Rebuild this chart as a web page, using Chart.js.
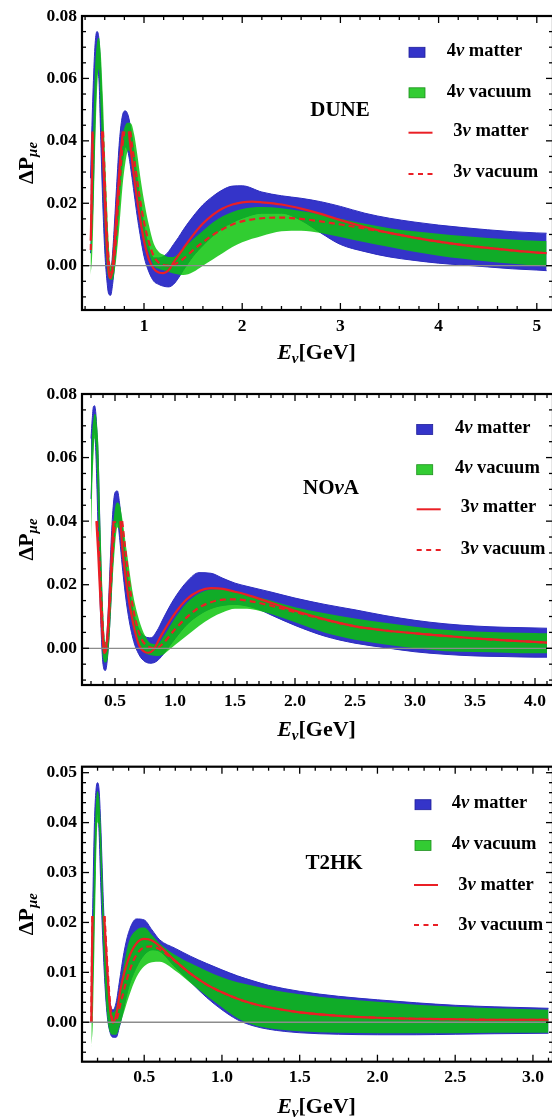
<!DOCTYPE html>
<html><head><meta charset="utf-8">
<script src="https://cdn.jsdelivr.net/npm/chart.js@4"></script>
<style>
html,body{margin:0;padding:0;background:#fff;overflow:hidden;}
#wrap{position:relative;width:552px;height:1117px;overflow:hidden;background:#fff;}
.pn{position:absolute;left:0;width:554px;}
</style></head><body>
<div id="wrap">
<div class="pn" style="top:0;height:370px"><canvas id="c1"></canvas></div>
<div class="pn" style="top:370px;height:380px"><canvas id="c2"></canvas></div>
<div class="pn" style="top:750px;height:367px"><canvas id="c3"></canvas></div>
</div>
<script>
// ---------------- DUNE ----------------
const duneXTicks = [1, 2, 3, 4, 5];
const duneYTicks = [0, 0.02, 0.04, 0.06, 0.08];
const duneE = [0.455,0.47,0.48,0.50,0.52,0.54,0.56,0.58,0.60,0.62,0.64,0.66,0.68,0.70,0.72,0.75,0.78,0.81,0.84,0.87,0.90,0.93,0.96,1.0,1.05,1.1,1.15,1.2,1.25,1.3,1.35,1.4,1.5,1.6,1.7,1.8,1.9,2.0,2.2,2.4,2.6,2.8,3.0,3.25,3.5,3.75,4.0,4.25,4.5,4.75,5.0,5.1];
const duneMatter4Lo = [0.004,0.012,0.02,0.045,0.062,0.060,0.040,0.020,0.005,-0.004,-0.009,-0.0095,-0.006,0.0,0.008,0.022,0.033,0.038,0.036,0.030,0.023,0.016,0.010,0.003,-0.002,-0.005,-0.006,-0.0066,-0.0068,-0.006,-0.004,-0.0015,0.003,0.0065,0.0095,0.012,0.0138,0.0152,0.0168,0.0168,0.0145,0.0105,0.0068,0.0045,0.0028,0.0017,0.0008,0.0002,-0.0004,-0.001,-0.0014,-0.0016];
const duneMatter4Hi = [0.028,0.045,0.055,0.070,0.075,0.073,0.062,0.045,0.028,0.013,0.002,-0.002,0.004,0.014,0.025,0.040,0.048,0.0496,0.048,0.043,0.036,0.028,0.021,0.013,0.006,0.0025,0.0025,0.003,0.0045,0.0068,0.009,0.0115,0.0158,0.0195,0.0222,0.0243,0.0255,0.0256,0.0236,0.0224,0.0216,0.0205,0.019,0.0168,0.0152,0.014,0.013,0.0122,0.0115,0.0109,0.0105,0.0104];
const duneVacuum4Lo = [-0.003,0.002,0.01,0.035,0.055,0.063,0.050,0.030,0.012,0.0,-0.004,-0.0045,-0.0045,-0.002,0.003,0.013,0.025,0.033,0.037,0.035,0.030,0.023,0.017,0.009,0.004,0.0,-0.001,-0.0015,-0.002,-0.0025,-0.0028,-0.003,-0.002,0.0,0.002,0.004,0.006,0.0075,0.0095,0.011,0.0112,0.0105,0.0092,0.0075,0.006,0.0045,0.0032,0.0022,0.0013,0.0006,0.0,-0.0003];
const duneVacuum4Hi = [0.012,0.03,0.04,0.062,0.071,0.073,0.068,0.055,0.038,0.022,0.008,0.0,0.003,0.01,0.018,0.031,0.041,0.045,0.0458,0.0455,0.042,0.036,0.029,0.021,0.013,0.007,0.0045,0.0035,0.0028,0.0028,0.0038,0.0055,0.0085,0.0112,0.0138,0.0158,0.0172,0.0182,0.0188,0.0184,0.0175,0.0164,0.015,0.0134,0.012,0.011,0.0102,0.0095,0.0089,0.0084,0.008,0.0079];
const duneMatter3E = [0.458,0.468,0.476,0.50,0.55,0.572,0.59,0.61,0.63,0.645,0.66,0.675,0.69,0.71,0.73,0.76,0.785,0.81,0.83,0.845,0.87,0.90,0.95,1.0,1.05,1.1,1.15,1.2,1.25,1.3,1.4,1.5,1.6,1.7,1.8,1.9,2.0,2.1,2.2,2.4,2.6,2.8,3.0,3.25,3.5,3.75,4.0,4.25,4.5,4.75,5.0,5.1];
const duneMatter3 = [0.008,0.025,0.043,null,null,0.043,0.03,0.014,0.002,-0.003,-0.004,-0.002,0.003,0.012,0.022,0.035,0.043,null,null,0.043,0.036,0.028,0.017,0.008,0.002,-0.001,-0.0022,-0.0024,-0.0015,0.001,0.0055,0.0098,0.0135,0.0163,0.0183,0.0196,0.0203,0.0205,0.0203,0.0196,0.0183,0.0166,0.0146,0.0124,0.0105,0.009,0.0077,0.0066,0.0057,0.0049,0.0042,0.004];
const duneVacuum3E = [0.458,0.468,0.478,0.50,0.55,0.582,0.60,0.62,0.64,0.66,0.675,0.69,0.71,0.73,0.76,0.78,0.80,0.82,0.84,0.86,0.88,0.90,0.95,1.0,1.05,1.1,1.15,1.2,1.25,1.3,1.4,1.5,1.6,1.7,1.8,1.9,2.0,2.2,2.4,2.6,2.8,3.0,3.25,3.5,3.75,4.0,4.25,4.5,4.75,5.0,5.1];
const duneVacuum3 = [0.005,0.022,0.043,null,null,0.043,0.028,0.012,0.002,-0.002,-0.0023,0.0,0.007,0.017,0.03,0.038,0.043,null,null,0.043,0.038,0.034,0.023,0.014,0.0075,0.003,0.001,0.0002,0.0,0.0003,0.0022,0.005,0.0075,0.0098,0.0117,0.0132,0.0142,0.0152,0.0154,0.015,0.0142,0.0132,0.0119,0.0105,0.009,0.0077,0.0066,0.0057,0.0049,0.0042,0.004];

// ---------------- NOvA ----------------
const novaXTicks = [0.5, 1.0, 1.5, 2.0, 2.5, 3.0, 3.5, 4.0];
const novaYTicks = [0, 0.02, 0.04, 0.06, 0.08];
const novaE = [0.30,0.31,0.32,0.33,0.34,0.35,0.36,0.38,0.40,0.42,0.44,0.46,0.48,0.50,0.52,0.54,0.56,0.60,0.65,0.70,0.75,0.80,0.85,0.90,0.95,1.0,1.1,1.2,1.3,1.4,1.5,1.6,1.7,1.8,2.0,2.25,2.5,2.75,3.0,3.25,3.5,3.75,4.0,4.1];
const novaMatter4Lo = [0.047,0.058,0.066,0.068,0.062,0.05,0.036,0.01,-0.005,-0.007,-0.002,0.01,0.026,0.037,0.04,0.034,0.026,0.013,0.003,-0.002,-0.0042,-0.0047,-0.004,-0.002,0.0005,0.003,0.0075,0.0105,0.0125,0.0135,0.0138,0.0133,0.0122,0.0105,0.0072,0.0038,0.0016,0.0002,-0.0011,-0.0019,-0.0024,-0.0026,-0.0028,-0.0028];
const novaMatter4Hi = [0.066,0.072,0.076,0.0763,0.074,0.068,0.06,0.03,0.008,0.0,0.009,0.027,0.042,0.049,0.0495,0.045,0.038,0.024,0.012,0.006,0.0037,0.0033,0.0055,0.0092,0.0128,0.016,0.021,0.0238,0.0236,0.022,0.0205,0.0195,0.0186,0.0177,0.0158,0.0138,0.0121,0.0103,0.0088,0.0077,0.007,0.0066,0.0064,0.0063];
const novaVacuum4Lo = [0.034,0.05,0.06,0.066,0.064,0.055,0.042,0.015,-0.003,-0.0045,-0.003,0.007,0.021,0.032,0.038,0.037,0.031,0.018,0.007,0.001,-0.0015,-0.0022,-0.0024,-0.002,-0.0005,0.001,0.004,0.007,0.0095,0.0113,0.0124,0.0124,0.0118,0.0108,0.0082,0.0049,0.0027,0.0012,0.0,-0.0009,-0.0012,-0.0014,-0.0016,-0.0016];
const novaVacuum4Hi = [0.06,0.068,0.072,0.0737,0.0735,0.07,0.065,0.037,0.013,0.002,0.005,0.021,0.036,0.044,0.0459,0.045,0.041,0.03,0.017,0.009,0.004,0.0015,0.0013,0.0035,0.0065,0.0095,0.0143,0.0172,0.0185,0.0186,0.0179,0.017,0.016,0.015,0.0129,0.011,0.0094,0.008,0.0068,0.0058,0.0053,0.005,0.0048,0.0047];
const novaMatter3E = [0.345,0.36,0.38,0.40,0.41,0.42,0.44,0.46,0.48,0.488,0.50,0.53,0.545,0.56,0.60,0.65,0.70,0.75,0.78,0.82,0.85,0.9,1.0,1.1,1.2,1.3,1.4,1.5,1.6,1.8,2.0,2.25,2.5,2.75,3.0,3.25,3.5,3.75,4.0,4.1];
const novaMatter3 = [0.04,0.03,0.014,0.002,-0.0015,-0.001,0.006,0.02,0.035,0.04,null,null,0.04,0.032,0.019,0.008,0.001,-0.0012,-0.0014,-0.0005,0.0015,0.005,0.011,0.0155,0.018,0.0189,0.0187,0.0178,0.0168,0.0143,0.0118,0.0091,0.0069,0.0056,0.0047,0.0039,0.0031,0.0025,0.002,0.0018];
const novaVacuum3E = [0.35,0.37,0.39,0.41,0.42,0.44,0.46,0.48,0.50,0.52,0.54,0.56,0.58,0.62,0.67,0.72,0.78,0.84,0.9,1.0,1.1,1.2,1.3,1.4,1.5,1.6,1.8,2.0,2.25,2.5,2.75,3.0,3.25,3.5,3.75,4.0,4.1];
const novaVacuum3 = [0.04,0.028,0.012,0.0,-0.001,0.004,0.016,0.03,0.04,null,null,0.04,0.033,0.02,0.009,0.003,0.0005,0.0,0.0015,0.006,0.0098,0.0128,0.0145,0.0153,0.0154,0.015,0.0134,0.0114,0.009,0.0069,0.0056,0.0047,0.0039,0.0031,0.0025,0.002,0.0018];

// ---------------- T2HK ----------------
const t2hkXTicks = [0.5, 1.0, 1.5, 2.0, 2.5, 3.0];
const t2hkYTicks = [0, 0.01, 0.02, 0.03, 0.04, 0.05];
const t2hkE = [0.16,0.17,0.18,0.19,0.20,0.21,0.22,0.24,0.26,0.28,0.30,0.32,0.34,0.37,0.40,0.45,0.50,0.55,0.60,0.70,0.80,0.90,1.0,1.1,1.2,1.3,1.5,1.75,2.0,2.25,2.5,2.75,3.1];
const t2hkMatter4Lo = [0.0,0.01,0.025,0.038,0.042,0.038,0.028,0.012,0.002,-0.002,-0.003,-0.003,-0.001,0.003,0.007,0.011,0.0135,0.0145,0.0142,0.011,0.008,0.005,0.0025,0.0005,-0.0007,-0.0014,-0.0021,-0.0024,-0.0025,-0.0025,-0.0024,-0.0023,-0.0022];
const t2hkMatter4Hi = [0.006,0.025,0.04,0.0465,0.048,0.0465,0.04,0.022,0.01,0.004,0.0025,0.004,0.008,0.014,0.018,0.0207,0.0205,0.0185,0.0165,0.0148,0.0132,0.0118,0.0105,0.0093,0.0083,0.0074,0.0062,0.0052,0.0045,0.0039,0.0034,0.0031,0.0028];
const t2hkVacuum4Lo = [-0.005,0.0,0.015,0.03,0.04,0.039,0.031,0.013,0.002,-0.002,-0.0025,-0.0025,-0.001,0.002,0.005,0.009,0.0112,0.012,0.0121,0.0103,0.0078,0.0053,0.003,0.0008,-0.0005,-0.0012,-0.0018,-0.0021,-0.0022,-0.0022,-0.0022,-0.0021,-0.0021];
const t2hkVacuum4Hi = [0.002,0.018,0.035,0.044,0.0463,0.045,0.04,0.022,0.009,0.003,0.002,0.003,0.006,0.0115,0.016,0.0185,0.019,0.0175,0.0158,0.0135,0.0118,0.0103,0.009,0.008,0.0073,0.0066,0.0056,0.0047,0.0041,0.0035,0.0031,0.0028,0.0025];
const t2hkMatter3E = [0.16,0.163,0.167,0.19,0.22,0.243,0.26,0.28,0.30,0.32,0.35,0.40,0.45,0.50,0.55,0.60,0.70,0.80,0.90,1.0,1.1,1.2,1.3,1.5,1.75,2.0,2.25,2.5,2.75,3.1];
const t2hkMatter3 = [0.0,0.01,0.0213,null,null,0.0213,0.012,0.003,-0.0001,0.0015,0.007,0.0128,0.0158,0.0167,0.0164,0.0152,0.0123,0.0097,0.0076,0.006,0.0047,0.0037,0.003,0.002,0.0013,0.0009,0.0007,0.0006,0.0005,0.0005];
const t2hkVacuum3E = [0.16,0.163,0.167,0.19,0.22,0.245,0.26,0.28,0.30,0.32,0.35,0.40,0.45,0.50,0.55,0.60,0.70,0.80,0.90,1.0,1.1,1.2,1.3,1.5,1.75,2.0,2.25,2.5,2.75,3.1];
const t2hkVacuum3 = [0.0,0.01,0.0213,null,null,0.0213,0.013,0.004,0.0003,0.0005,0.004,0.0098,0.0135,0.015,0.0152,0.0146,0.0122,0.0097,0.0076,0.006,0.0047,0.0037,0.003,0.002,0.0013,0.0009,0.0007,0.0006,0.0005,0.0005];

const legendLabels = [
  [['4',0],['ν',1],[' matter',0]],
  [['4',0],['ν',1],[' vacuum',0]],
  [['3',0],['ν',1],[' matter',0]],
  [['3',0],['ν',1],[' vacuum',0]]
];

// ---------------- styling ----------------
const SERIF = "'Liberation Serif','Times New Roman',serif";
const BLUE = '#3434c9';
const BLUE_EDGE = '#2c2cbf';
const GREEN = 'rgba(10,195,10,0.84)';
const RED = '#ea1f25';
const CLEAR = 'rgba(0,0,0,0)';

function runFont(size, italic){ return (italic ? 'italic ' : '') + 'bold ' + size + 'px ' + SERIF; }
function drawRuns(ctx, runs, x, y, align){
  let w = 0;
  runs.forEach(r => { ctx.font = runFont(r.s, r.i); r.w = ctx.measureText(r.t).width; w += r.w; });
  let cx = align === 'center' ? x - w / 2 : x;
  ctx.textAlign = 'left';
  ctx.textBaseline = 'alphabetic';
  runs.forEach(r => { ctx.font = runFont(r.s, r.i); ctx.fillText(r.t, cx, y + (r.dy || 0)); cx += r.w; });
}

const decor = {
  id: 'decor',
  afterDatasetsDraw(chart, args, o){
    const {ctx, chartArea: a} = chart;
    const xs = chart.scales.x, ys = chart.scales.y;
    ctx.save();
    const y0 = ys.getPixelForValue(0);
    ctx.strokeStyle = '#8c8c8c'; ctx.lineWidth = 1.3;
    ctx.beginPath(); ctx.moveTo(a.left, y0); ctx.lineTo(a.right, y0); ctx.stroke();
    ctx.strokeStyle = '#000'; ctx.lineWidth = 1.3;
    const seg = (x1, y1, x2, y2) => { ctx.beginPath(); ctx.moveTo(x1, y1); ctx.lineTo(x2, y2); ctx.stroke(); };
    const xr = Math.round(o.xMajor / o.xMinor);
    for (let k = Math.ceil(xs.min / o.xMinor - 1e-6); k * o.xMinor <= xs.max + 1e-9; k++) {
      const px = xs.getPixelForValue(k * o.xMinor);
      const L = (k % xr === 0) ? 7 : 4;
      seg(px, a.bottom, px, a.bottom - L); seg(px, a.top, px, a.top + L);
    }
    const yr = Math.round(o.yMajor / o.yMinor);
    for (let k = Math.ceil(ys.min / o.yMinor - 1e-6); k * o.yMinor <= ys.max + 1e-9; k++) {
      const py = ys.getPixelForValue(k * o.yMinor);
      const L = (k % yr === 0) ? 7 : 4;
      seg(a.left, py, a.left + L, py); seg(a.right, py, a.right - L, py);
    }
    ctx.lineWidth = 2.2;
    ctx.strokeRect(a.left, a.top, a.right - a.left, a.bottom - a.top);
    ctx.restore();
  },
  afterDraw(chart, args, o){
    const {ctx, chartArea: a} = chart;
    ctx.save();
    ctx.fillStyle = '#000';
    // experiment name
    drawRuns(ctx, o.name.map(r => ({t: r[0], i: r[1], s: 21})), o.nameX, o.nameY, 'center');
    // legend
    const L = o.legend;
    ctx.fillStyle = BLUE; ctx.fillRect(L.sx, L.sy[0], 16, 10);
    ctx.strokeStyle = '#1e1e9a'; ctx.lineWidth = 0.8; ctx.strokeRect(L.sx, L.sy[0], 16, 10);
    ctx.fillStyle = '#33cc33'; ctx.fillRect(L.sx, L.sy[1], 16, 10);
    ctx.strokeStyle = '#1c8f1c'; ctx.strokeRect(L.sx, L.sy[1], 16, 10);
    ctx.strokeStyle = RED; ctx.lineWidth = 2;
    ctx.beginPath(); ctx.moveTo(L.lx, L.ly[0]); ctx.lineTo(L.lx + 24, L.ly[0]); ctx.stroke();
    ctx.setLineDash([5, 4.5]);
    ctx.beginPath(); ctx.moveTo(L.lx, L.ly[1]); ctx.lineTo(L.lx + 24, L.ly[1]); ctx.stroke();
    ctx.setLineDash([]);
    ctx.fillStyle = '#000';
    legendLabels.forEach((lab, i) => {
      const tx = i < 2 ? L.tx[0] : L.tx[1];
      drawRuns(ctx, lab.map(r => ({t: r[0], i: r[1], s: 18.5})), tx, L.ty[i], 'left');
    });
    // x title
    drawRuns(ctx, [{t:'E', i:1, s:22}, {t:'ν', i:1, s:15, dy:4}, {t:'[GeV]', i:0, s:22}], (a.left + a.right) / 2 - 1, o.xTitleY, 'center');
    // y title
    ctx.translate(33, (a.top + a.bottom) / 2);
    ctx.rotate(-Math.PI / 2);
    drawRuns(ctx, [{t:'ΔP', i:0, s:22}, {t:'μe', i:1, s:15, dy:4}], 0, 0, 'center');
    ctx.restore();
  }
};

function pts(xs, ys){ return xs.map((x, i) => ({x: x, y: ys[i]})); }

function makeChart(P){
  const tickFont = {family: SERIF, weight: 'bold', size: 17.5};
  const base = {pointRadius: 0, pointHoverRadius: 0, cubicInterpolationMode: 'monotone', spanGaps: false};
  new Chart(document.getElementById(P.id), {
    type: 'line',
    data: {datasets: [
      Object.assign({label: '4ν matter (lower)', data: pts(P.E, P.m4lo), borderColor: BLUE_EDGE, borderWidth: 1, fill: false, order: 4}, base),
      Object.assign({label: '4ν matter', data: pts(P.E, P.m4hi), borderColor: BLUE_EDGE, borderWidth: 1, backgroundColor: BLUE, fill: '-1', order: 4}, base),
      Object.assign({label: '4ν vacuum (lower)', data: pts(P.E, P.v4lo), borderColor: CLEAR, borderWidth: 1, fill: false, order: 3}, base),
      Object.assign({label: '4ν vacuum', data: pts(P.E, P.v4hi), borderColor: CLEAR, borderWidth: 1, backgroundColor: GREEN, fill: '-1', order: 3}, base),
      Object.assign({label: '3ν vacuum', data: pts(P.v3E, P.v3), borderColor: RED, borderWidth: 2.2, borderDash: [6, 4], fill: false, order: 2}, base),
      Object.assign({label: '3ν matter', data: pts(P.m3E, P.m3), borderColor: RED, borderWidth: 2.2, fill: false, order: 1}, base)
    ]},
    options: {
      responsive: true, maintainAspectRatio: false, animation: false, events: [],
      layout: {padding: {top: P.padTop, right: 1, left: 0, bottom: 0}},
      plugins: {legend: {display: false}, tooltip: {enabled: false}, decor: P.decor},
      scales: {
        x: {type: 'linear', min: P.xMin, max: P.xMax,
            grid: {display: false, drawTicks: false}, border: {display: false},
            afterBuildTicks: s => { s.ticks = P.xTicks.map(v => ({value: v})); },
            afterFit: s => { s.height = P.xH; },
            ticks: {autoSkip: false, maxRotation: 0, padding: 5.5, color: '#000', font: tickFont,
                    callback: v => v.toFixed(P.xDigits)}},
        y: {type: 'linear', min: P.yMin, max: P.yMax,
            grid: {display: false, drawTicks: false}, border: {display: false},
            afterBuildTicks: s => { s.ticks = P.yTicks.map(v => ({value: v})); },
            afterFit: s => { s.width = 82; },
            ticks: {autoSkip: false, padding: 5, color: '#000', font: tickFont,
                    callback: v => v.toFixed(2)}}
      }
    },
    plugins: [decor]
  });
}

makeChart({id: 'c1', padTop: 16, xH: 60, xMin: 0.3686, xMax: 5.165, yMin: -0.0142, yMax: 0.08,
  xTicks: duneXTicks, yTicks: duneYTicks, xDigits: 0,
  E: duneE, m4lo: duneMatter4Lo, m4hi: duneMatter4Hi, v4lo: duneVacuum4Lo, v4hi: duneVacuum4Hi,
  m3E: duneMatter3E, m3: duneMatter3, v3E: duneVacuum3E, v3: duneVacuum3,
  decor: {xMinor: 0.2, xMajor: 1, yMinor: 0.005, yMajor: 0.02, name: [['DUNE',0]], nameX: 340, nameY: 115.5, xTitleY: 359,
    legend: {sx: 409, sy: [47.3, 87.8], lx: 408.5, ly: [132.7, 174], tx: [446.7, 453.3], ty: [56, 96.5, 136, 177.3]}}
});
makeChart({id: 'c2', padTop: 24, xH: 65, xMin: 0.225, xMax: 4.15, yMin: -0.01155, yMax: 0.08,
  xTicks: novaXTicks, yTicks: novaYTicks, xDigits: 1,
  E: novaE, m4lo: novaMatter4Lo, m4hi: novaMatter4Hi, v4lo: novaVacuum4Lo, v4hi: novaVacuum4Hi,
  m3E: novaMatter3E, m3: novaMatter3, v3E: novaVacuum3E, v3: novaVacuum3,
  decor: {xMinor: 0.1, xMajor: 0.5, yMinor: 0.005, yMajor: 0.02, name: [['NO',0],['ν',1],['A',0]], nameX: 331, nameY: 124, xTitleY: 366,
    legend: {sx: 416.7, sy: [54.5, 94.7], lx: 416.7, ly: [139.3, 180], tx: [455, 460.7], ty: [62.8, 102.8, 142.2, 183.8]}}
});
makeChart({id: 'c3', padTop: 16.7, xH: 55.3, xMin: 0.1, xMax: 3.129, yMin: -0.0079, yMax: 0.0512,
  xTicks: t2hkXTicks, yTicks: t2hkYTicks, xDigits: 1,
  E: t2hkE, m4lo: t2hkMatter4Lo, m4hi: t2hkMatter4Hi, v4lo: t2hkVacuum4Lo, v4hi: t2hkVacuum4Hi,
  m3E: t2hkMatter3E, m3: t2hkMatter3, v3E: t2hkVacuum3E, v3: t2hkVacuum3,
  decor: {xMinor: 0.1, xMajor: 0.5, yMinor: 0.002, yMajor: 0.01, name: [['T2HK',0]], nameX: 334, nameY: 119, xTitleY: 362.5,
    legend: {sx: 415, sy: [49.7, 90.4], lx: 414, ly: [135, 175], tx: [451.7, 458.3], ty: [58.2, 98.8, 139.5, 179.5]}}
});
</script>
</body></html>
